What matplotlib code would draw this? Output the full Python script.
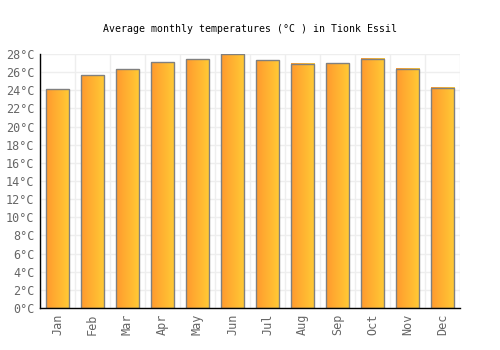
import matplotlib.pyplot as plt
import numpy as np
from matplotlib.colors import LinearSegmentedColormap

months = ['Jan', 'Feb', 'Mar', 'Apr', 'May', 'Jun', 'Jul', 'Aug', 'Sep', 'Oct', 'Nov', 'Dec']
temps = [24.1, 25.65, 26.3, 27.1, 27.4, 28.0, 27.3, 26.9, 27.0, 27.5, 26.4, 24.3]
yticks = list(range(0, 29, 2))

plt.rcParams['font.family'] = ['DejaVu Sans Mono']

fig = plt.figure(figsize=(5, 3.5), dpi=100)
ax = fig.add_axes([0.08, 0.12, 0.84, 0.7257])

x = np.arange(len(months))
bars = ax.bar(x, temps, width=0.66, color='none', edgecolor='#808080', linewidth=1, zorder=3)

# gradient fill, left orange -> right yellow
cmap = LinearSegmentedColormap.from_list('og', ['#ff9a2e', '#ffcb35'])
grad = np.linspace(0, 1, 64).reshape(1, -1)
for b in bars:
    x0, w, h = b.get_x(), b.get_width(), b.get_height()
    ax.imshow(grad, cmap=cmap, aspect='auto', extent=(x0, x0 + w, 0, h), zorder=2)

ax.set_xlim(-0.5, len(months) - 0.5)
ax.set_ylim(0, 28)
ax.set_xticks(x)
ax.set_xticklabels(months, rotation=90)
ax.set_yticks(yticks)
ax.set_yticklabels([f'{t}°C' for t in yticks])
ax.set_xticks(np.arange(-0.5, len(months), 1), minor=True)
ax.tick_params(axis='both', which='both', length=0, labelsize=8.5, colors='#666666', pad=4)
ax.grid(True, axis='y', color='#eeeeee', linewidth=1, zorder=0)
ax.grid(True, axis='x', which='minor', color='#eeeeee', linewidth=1, zorder=0)

for s in ['top', 'right']:
    ax.spines[s].set_visible(False)
for s in ['left', 'bottom']:
    ax.spines[s].set_color('black')
    ax.spines[s].set_linewidth(1)
    ax.spines[s].set_zorder(4)

fig.text(0.5, 0.918, 'Average monthly temperatures (°C ) in Tionk Essil',
         ha='center', va='center', fontsize=7.1, color='black')

plt.savefig('out.png', dpi=100)
plt.close()
